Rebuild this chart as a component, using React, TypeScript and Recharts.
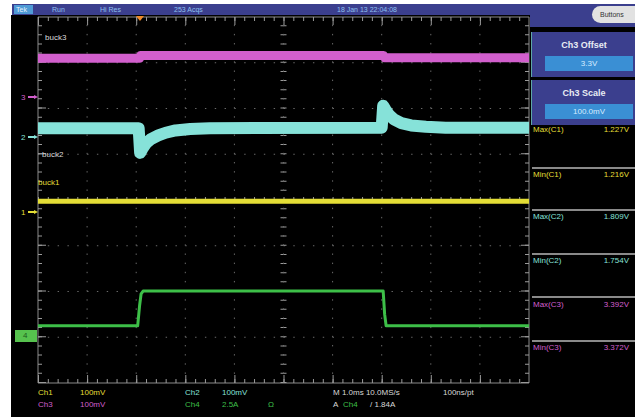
import { LineChart, Line, XAxis, YAxis, ReferenceLine, ReferenceArea } from "recharts";

// Scope capture: 10 x 8 divisions, time in divisions from centre (1.0 ms/div),
// levels in divisions from the centre line.
const buck3Time = [-5, -2.93, -2.91, 2.04, 2.06, 5];
const buck3Level = [3.1, 3.1, 3.16, 3.16, 3.11, 3.11];

const buck2Time = [-5, -2.95, -2.92, -2.87, -2.8, -2.7, -2.55, -2.4, -2.2, -1.9, -1.5, 2.0, 2.03, 2.08, 2.15, 2.25, 2.4, 2.6, 2.9, 3.3, 5];
const buck2Level = [1.57, 1.57, 1.03, 1.13, 1.24, 1.33, 1.41, 1.47, 1.52, 1.55, 1.57, 1.58, 2.06, 1.97, 1.86, 1.76, 1.68, 1.63, 1.6, 1.58, 1.58];

const buck1Time = [-5, 5];
const buck1Level = [-0.03, -0.03];

const loadTime = [-5, -2.97, -2.93, -2.9, -2.86, 2.03, 2.06, 2.09, 5];
const loadLevel = [-2.75, -2.75, -2.3, -2.05, -1.99, -1.99, -2.5, -2.75, -2.75];

const measureLabels = ["Max(C1)", "Min(C1)", "Max(C2)", "Min(C2)", "Max(C3)", "Min(C3)"];
const measureValues = ["1.227V", "1.216V", "1.809V", "1.754V", "3.392V", "3.372V"];

const toPoints = (t: number[], v: number[]) => t.map((x, i) => ({ t: x, v: v[i] }));

const PINK = "#d25fcd";
const CYAN = "#86e2d9";
const YELLOW = "#e4de36";
const GREEN = "#3dbf48";
const BAR = "#3b3f8e";
const FONT = "'Liberation Sans', Arial, sans-serif";

const PLOT = { left: 38, top: 17, right: 529, bottom: 383 };
const pw = PLOT.right - PLOT.left;
const ph = PLOT.bottom - PLOT.top;
const minorX = pw / 50;
const minorY = ph / 40;
const xGrid = [-4, -3, -2, -1, 1, 2, 3, 4];
const yGrid = [-3, -2, -1, 1, 2, 3];

const measureColors = [YELLOW, YELLOW, CYAN, CYAN, PINK, PINK];
const measureRows = [130, 175, 217, 261, 305, 348];
const measureSeps = [167, 209, 253, 296, 340];

function Txt({ x, y, color, size = 8, children, bold }: any) {
  return (
    <div
      style={{
        position: "absolute",
        left: x,
        top: y,
        color,
        fontSize: size,
        fontFamily: FONT,
        whiteSpace: "nowrap",
        lineHeight: 1,
        fontWeight: bold ? 700 : 400,
      }}
    >
      {children}
    </div>
  );
}

function Marker({ y, label, color }: { y: number; label: string; color: string }) {
  return (
    <div style={{ position: "absolute", left: 21, top: y - 5, height: 10, display: "flex", alignItems: "center" }}>
      <span style={{ color, fontSize: 8, fontFamily: FONT, width: 7 }}>{label}</span>
      <span style={{ width: 6, height: 1.5, background: color }} />
      <span
        style={{
          width: 0,
          height: 0,
          borderTop: "2.5px solid transparent",
          borderBottom: "2.5px solid transparent",
          borderLeft: `4px solid ${color}`,
        }}
      />
    </div>
  );
}

function ValueBox({ top, title, value }: { top: number; title: string; value: string }) {
  return (
    <div style={{ position: "absolute", left: 531, top, width: 104, height: 45, background: BAR, borderLeft: "1px solid #5fa6a6" }}>
      <div style={{ position: "absolute", left: 0, width: 104, top: 8, textAlign: "center", color: "#e8ecf4", fontSize: 9, fontFamily: FONT, fontWeight: 700 }}>
        {title}
      </div>
      <div
        style={{
          position: "absolute",
          left: 13,
          top: 24,
          width: 88,
          height: 15,
          background: "#3a8fd4",
          color: "#d6ecff",
          fontSize: 8,
          fontFamily: FONT,
          textAlign: "center",
          lineHeight: "15px",
        }}
      >
        {value}
      </div>
    </div>
  );
}

export default function App() {
  const buck3 = toPoints(buck3Time, buck3Level);
  const buck2 = toPoints(buck2Time, buck2Level);
  const buck1 = toPoints(buck1Time, buck1Level);
  const load = toPoints(loadTime, loadLevel);
  const dotH = `1.4 ${minorX - 1.4}`;
  const dotV = `1.4 ${minorY - 1.4}`;
  const divX = pw / 10;
  const divY = ph / 8;

  return (
    <div style={{ position: "absolute", left: 0, top: 0, width: 635, height: 417, background: "#fff", overflow: "hidden" }}>
      <div style={{ position: "absolute", left: 11, top: 15, width: 624, height: 402, background: "#000" }} />
      {/* status bar */}
      <div style={{ position: "absolute", left: 12, top: 4, width: 623, height: 11, background: BAR }} />
      <div style={{ position: "absolute", left: 530, top: 4, width: 105, height: 23, background: BAR }} />
      <div style={{ position: "absolute", left: 14, top: 5, width: 19, height: 9, background: "#4f9bd6" }} />
      <Txt x={16} y={6} color="#e6f2ff" size={7}>Tek</Txt>
      <Txt x={52} y={6} color="#8fc0ee" size={7}>Run</Txt>
      <Txt x={100} y={6} color="#8fc0ee" size={7}>Hi Res</Txt>
      <Txt x={174} y={6} color="#8fc0ee" size={7}>253 Acqs</Txt>
      <Txt x={337} y={6} color="#8fc0ee" size={7}>18 Jan 13 22:04:08</Txt>
      <div
        style={{
          position: "absolute",
          left: 592,
          top: 6,
          width: 50,
          height: 17,
          borderRadius: 9,
          background: "#e2e2e2",
          color: "#333",
          fontSize: 7,
          fontFamily: FONT,
          lineHeight: "17px",
          paddingLeft: 8,
          boxSizing: "border-box",
        }}
      >
        Buttons
      </div>

      <ValueBox top={32} title="Ch3 Offset" value="3.3V" />
      <ValueBox top={80} title="Ch3 Scale" value="100.0mV" />

      <LineChart
        width={635}
        height={417}
        margin={{ left: PLOT.left, top: PLOT.top, right: 635 - PLOT.right, bottom: 417 - PLOT.bottom }}
        style={{ position: "absolute", left: 0, top: 0 }}
      >
        <XAxis dataKey="t" type="number" domain={[-5, 5]} hide allowDuplicatedCategory={false} />
        <YAxis type="number" domain={[-4, 4]} hide />
        {xGrid.map((x) => (
          <ReferenceLine key={`gx${x}`} x={x} stroke="#6a6a6a" strokeWidth={1} strokeDasharray={dotV} />
        ))}
        {yGrid.map((y) => (
          <ReferenceLine key={`gy${y}`} y={y} stroke="#6a6a6a" strokeWidth={1} strokeDasharray={dotH} />
        ))}
        <ReferenceLine x={0} stroke="#9a9a9a" strokeWidth={6} strokeDasharray={`1 ${minorY - 1}`} />
        <ReferenceLine y={0} stroke="#9a9a9a" strokeWidth={6} strokeDasharray={`1 ${minorX - 1}`} />
        <ReferenceLine x={0} stroke="#6a6a6a" strokeWidth={1} strokeDasharray={dotV} />
        <ReferenceLine y={0} stroke="#6a6a6a" strokeWidth={1} strokeDasharray={dotH} />
        <ReferenceLine x={-5 + 2 / divX} stroke="#9a9a9a" strokeWidth={4} strokeDasharray={`1 ${minorY - 1}`} />
        <ReferenceLine x={5 - 2 / divX} stroke="#9a9a9a" strokeWidth={4} strokeDasharray={`1 ${minorY - 1}`} />
        <ReferenceLine x={-5 + 4 / divX} stroke="#9a9a9a" strokeWidth={8} strokeDasharray={`1 ${divY - 1}`} />
        <ReferenceLine x={5 - 4 / divX} stroke="#9a9a9a" strokeWidth={8} strokeDasharray={`1 ${divY - 1}`} />
        <ReferenceLine y={4 - 2 / divY} stroke="#9a9a9a" strokeWidth={4} strokeDasharray={`1 ${minorX - 1}`} />
        <ReferenceLine y={-4 + 2 / divY} stroke="#9a9a9a" strokeWidth={4} strokeDasharray={`1 ${minorX - 1}`} />
        <ReferenceLine y={-4 + 4 / divY} stroke="#9a9a9a" strokeWidth={8} strokeDasharray={`1 ${divX - 1}`} />
        <ReferenceLine y={4 - 4 / divY} stroke="#9a9a9a" strokeWidth={8} strokeDasharray={`1 ${divX - 1}`} />
        <ReferenceArea x1={-5} x2={5} y1={-4} y2={4} fill="none" stroke="#8a8a8a" strokeWidth={1} fillOpacity={0} />

        <Line data={buck3} dataKey="v" stroke={PINK} strokeWidth={9} dot={false} isAnimationActive={false} strokeLinejoin="round" />
        <Line data={buck2} dataKey="v" stroke={CYAN} strokeWidth={12} dot={false} isAnimationActive={false} strokeLinejoin="round" />
        <Line data={buck1} dataKey="v" stroke={YELLOW} strokeWidth={5} dot={false} isAnimationActive={false} />
        <Line data={load} dataKey="v" stroke={GREEN} strokeWidth={3} dot={false} isAnimationActive={false} strokeLinejoin="round" />
      </LineChart>

      {/* trigger position */}
      <div
        style={{
          position: "absolute",
          left: 136,
          top: 16,
          width: 0,
          height: 0,
          borderLeft: "4px solid transparent",
          borderRight: "4px solid transparent",
          borderTop: "5px solid #f08a2a",
        }}
      />

      <Txt x={45} y={34} color="#dcdcdc">buck3</Txt>
      <Txt x={42} y={151} color="#dcdcdc">buck2</Txt>
      <Txt x={38} y={179} color={YELLOW}>buck1</Txt>

      <Marker y={97} label="3" color={PINK} />
      <Marker y={137} label="2" color={CYAN} />
      <Marker y={212} label="1" color={YELLOW} />
      <div
        style={{
          position: "absolute",
          left: 15,
          top: 330,
          width: 22,
          height: 12,
          background: "#56c24e",
          color: "#1d5a1d",
          fontSize: 8,
          fontFamily: FONT,
          lineHeight: "12px",
          paddingLeft: 8,
          boxSizing: "border-box",
        }}
      >
        4
      </div>

      {measureLabels.map((m, i) => (
        <div key={m}>
          <Txt x={533} y={measureRows[i] - 4} color={measureColors[i]}>{m}</Txt>
          <div
            style={{
              position: "absolute",
              right: 6,
              top: measureRows[i] - 4,
              color: measureColors[i],
              fontSize: 8,
              fontFamily: FONT,
              lineHeight: 1,
            }}
          >
            {measureValues[i]}
          </div>
        </div>
      ))}
      {measureSeps.map((y) => (
        <div key={y} style={{ position: "absolute", left: 532, top: y, width: 103, height: 2, background: "#8a8a8a" }} />
      ))}

      <Txt x={38} y={389} color={YELLOW}>Ch1</Txt>
      <Txt x={80} y={389} color={YELLOW}>100mV</Txt>
      <Txt x={38} y={401} color={PINK}>Ch3</Txt>
      <Txt x={80} y={401} color={PINK}>100mV</Txt>
      <Txt x={185} y={389} color={CYAN}>Ch2</Txt>
      <Txt x={222} y={389} color={CYAN}>100mV</Txt>
      <Txt x={185} y={401} color={GREEN}>Ch4</Txt>
      <Txt x={222} y={401} color={GREEN}>2.5A</Txt>
      <Txt x={268} y={401} color={GREEN}>Ω</Txt>
      <Txt x={333} y={389} color="#d8d8d8">M 1.0ms 10.0MS/s</Txt>
      <Txt x={443} y={389} color="#d8d8d8">100ns/pt</Txt>
      <Txt x={333} y={401} color="#d8d8d8">A</Txt>
      <Txt x={343} y={401} color={GREEN}>Ch4</Txt>
      <Txt x={370} y={401} color="#d8d8d8">/ 1.84A</Txt>
    </div>
  );
}
